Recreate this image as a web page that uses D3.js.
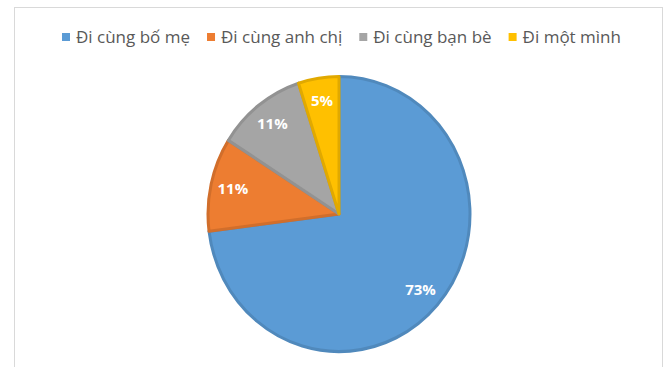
<!DOCTYPE html>
<meta charset="utf-8">
<style>
    body { margin: 0; background: #fff; }
    .legend text { font-family: "Open Sans", sans-serif; font-size: 17px; fill: #595959; }
    .label { font-family: "Open Sans", sans-serif; font-size: 15px; font-weight: bold; fill: #fff; }
</style>
<body>
<script src="https://d3js.org/d3.v7.min.js"></script>
<script>
    var categories = ["Đi cùng bố mẹ", "Đi cùng anh chị", "Đi cùng bạn bè", "Đi một mình"];
    var values = [73, 11, 11, 5];
    var labels = ["73%", "11%", "11%", "5%"];
    var colors = ["#5B9BD5", "#ED7D31", "#A5A5A5", "#FFC000"];

    var width = 666, height = 367;
    var svg = d3.select("body").append("svg").attr("width", width).attr("height", height);

    // chart frame
    svg.append("rect")
        .attr("x", 14.5).attr("y", 7.5)
        .attr("width", 648).attr("height", 380)
        .attr("fill", "#fff").attr("stroke", "#d9d9d9").attr("stroke-width", 1);

    var data = categories.map((c, i) => ({ name: c, value: values[i], label: labels[i], color: colors[i] }));

    var pie = d3.pie().sort(null).value(d => d.value);
    var r = 131;
    var arc = d3.arc().innerRadius(0).outerRadius(r);
    var labelArc = d3.arc().innerRadius(r * 0.83).outerRadius(r * 0.83);

    var g = svg.append("g").attr("transform", "translate(339,214) scale(1,1.05)");

    g.selectAll("path").data(pie(data)).enter().append("path")
        .attr("d", arc)
        .attr("fill", d => d.data.color)
        .attr("stroke", d => d3.color(d.data.color).darker(0.35))
        .attr("stroke-width", 3)
        .attr("stroke-linejoin", "round");

    svg.append("g").selectAll("text").data(pie(data)).enter().append("text")
        .attr("class", "label")
        .attr("text-anchor", "middle")
        .attr("dy", "0.35em")
        .attr("x", d => 339 + labelArc.centroid(d)[0])
        .attr("y", d => 214 + labelArc.centroid(d)[1] * 1.05)
        .text(d => d.data.label);

    // legend
    var legend = svg.append("g").attr("class", "legend");
    var x = 62;
    data.forEach(function(d, i) {
        var item = legend.append("g").attr("transform", "translate(" + x + ",37)");
        item.append("rect").attr("x", 0).attr("y", -4).attr("width", 8).attr("height", 8).attr("fill", d.color);
        var t = item.append("text").attr("x", 14).attr("dy", "0.35em").text(d.name);
        x += 14 + t.node().getComputedTextLength() + 17;
    });
</script>
</body>
